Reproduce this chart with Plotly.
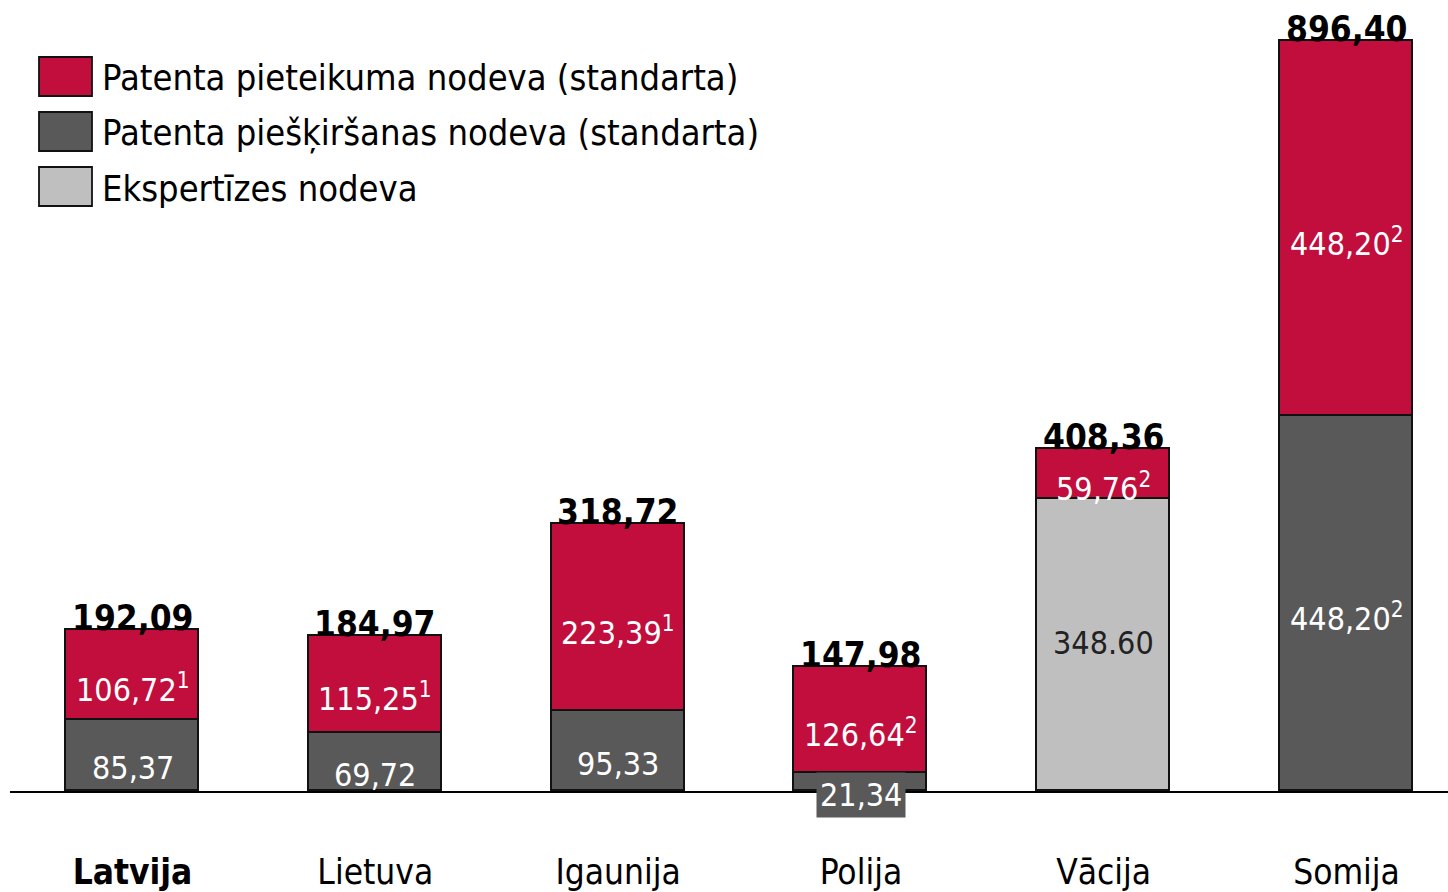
import plotly.graph_objects as go

categories = ["Latvija", "Lietuva", "Igaunija", "Polija", "Vācija", "Somija"]
grant_fee = [85.37, 69.72, 95.33, 21.34, None, 448.20]
exam_fee = [None, None, None, None, 348.60, None]
application_fee = [106.72, 115.25, 223.39, 126.64, 59.76, 448.20]
totals = [192.09, 184.97, 318.72, 147.98, 408.36, 896.40]

grant_labels = ["85,37", "69,72", "95,33", "21,34", None, "448,20<sup>2</sup>"]
exam_labels = [None, None, None, None, "348.60", None]
app_labels = ["106,72<sup>1</sup>", "115,25<sup>1</sup>", "223,39<sup>1</sup>",
              "126,64<sup>2</sup>", "59,76<sup>2</sup>", "448,20<sup>2</sup>"]
total_labels = ["192,09", "184,97", "318,72", "147,98", "408,36", "896,40"]

legend_names = ["Patenta pieteikuma nodeva (standarta)",
                "Patenta piešķiršanas nodeva (standarta)",
                "Ekspertīzes nodeva"]

RED = "#C20E3C"
DARK = "#595959"
LIGHT = "#BFBFBF"
FONT = "DejaVu Sans Condensed, DejaVu Sans, sans-serif"

W, H = 1448, 892
ML, MB = 10, 101
PW, PH = W - ML, H - MB
px_per_unit = 750 / 896.4
ymax = PH / px_per_unit
xspacing = 242.8
x0 = -(132.5 - ML) / xspacing
x1 = x0 + PW / xspacing

xs = list(range(len(categories)))
line = dict(color="#111111", width=1.8)
BW = 0.548

fig = go.Figure()
fig.add_trace(go.Bar(x=xs, y=grant_fee, marker=dict(color=DARK, line=line),
                     width=BW, name=legend_names[1], showlegend=False))
fig.add_trace(go.Bar(x=xs, y=exam_fee, marker=dict(color=LIGHT, line=line),
                     width=BW, name=legend_names[2], showlegend=False))
fig.add_trace(go.Bar(x=xs, y=application_fee, marker=dict(color=RED, line=line),
                     width=BW, name=legend_names[0], showlegend=False))

ann = []
for i in xs:
    g = grant_fee[i] or 0
    e = exam_fee[i] or 0
    a = application_fee[i] or 0
    if grant_labels[i]:
        if g * px_per_unit < 40:
            ann.append(dict(x=i, y=0, text=grant_labels[i], showarrow=False,
                            yanchor="middle", yshift=-4, bgcolor=DARK,
                            borderpad=3,
                            font=dict(family=FONT, size=32, color="white")))
        else:
            ann.append(dict(x=i, y=g / 2, text=grant_labels[i], showarrow=False,
                            yanchor="middle", yshift=-13,
                            font=dict(family=FONT, size=32, color="white")))
    if exam_labels[i]:
        ann.append(dict(x=i, y=g + e / 2, text=exam_labels[i], showarrow=False,
                        yanchor="middle", yshift=2,
                        font=dict(family=FONT, size=32, color="#222222")))
    if app_labels[i]:
        ann.append(dict(x=i, y=g + e + a / 2, text=app_labels[i], showarrow=False,
                        yanchor="middle", yshift=-13,
                        font=dict(family=FONT, size=32, color="white")))
    ann.append(dict(x=i, y=totals[i], text="<b>" + total_labels[i] + "</b>",
                    showarrow=False, yanchor="bottom", yshift=-10,
                    font=dict(family=FONT, size=35, color="black")))

# legend drawn as boxes + text
shapes = []
for k, name in enumerate(legend_names):
    color = [RED, DARK, LIGHT][k]
    top = 57 + 55 * k
    shapes.append(dict(type="rect", xref="paper", yref="paper",
                       x0=(39 - ML) / PW, x1=(92 - ML) / PW,
                       y0=(PH - top) / PH, y1=(PH - top - 39) / PH,
                       fillcolor=color, line=dict(color="#111111", width=1.8)))
    ann.append(dict(xref="paper", yref="paper", x=(100 - ML) / PW,
                    y=(PH - top - 21) / PH, text=name, showarrow=False,
                    xanchor="left", yanchor="middle",
                    font=dict(family=FONT, size=36, color="black")))

ticktext = ["<b>" + categories[0] + "</b>"] + categories[1:]

fig.update_layout(
    template="none",
    width=W, height=H,
    margin=dict(l=ML, r=0, t=0, b=MB, autoexpand=False),
    paper_bgcolor="white", plot_bgcolor="rgba(0,0,0,0)",
    barmode="stack", bargap=0,
    showlegend=False,
    annotations=ann, shapes=shapes,
    xaxis=dict(range=[x0, x1], tickvals=xs, ticktext=ticktext,
               showgrid=False, zeroline=False, showline=True,
               linecolor="black", linewidth=1.5, ticks="",
               ticklabelstandoff=49, automargin=False,
               tickfont=dict(family=FONT, size=35, color="black")),
    yaxis=dict(range=[0, ymax], visible=False, showgrid=False,
               zeroline=False, automargin=False),
)

fig.write_html("out.html",
               config={"displayModeBar": False},
               post_script="document.body.style.margin='0';"
                           "document.body.style.overflow='hidden';")
